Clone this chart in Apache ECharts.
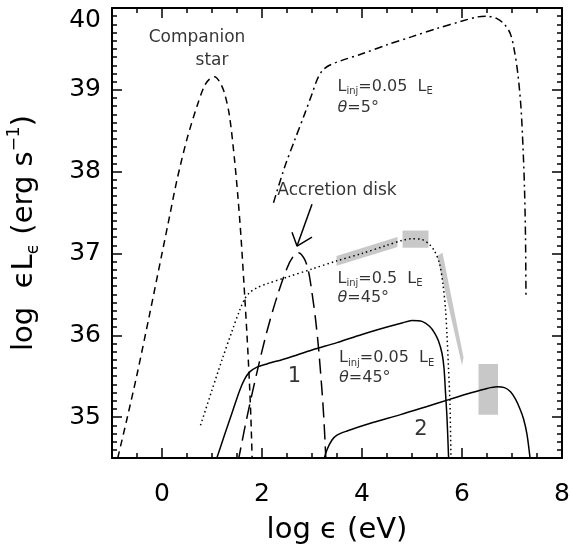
<!DOCTYPE html>
<html>
<head>
<meta charset="utf-8">
<script src="https://cdn.jsdelivr.net/npm/echarts@6/dist/echarts.min.js"></script>
<style>
html, body { margin: 0; padding: 0; background: #fff; }
#chart { width: 571px; height: 554px; }
</style>
</head>
<body>
<div id="chart"></div>
<script>
// curves, [log eps, log eps*L_eps]
const companionStar = [
	[-0.885, 34.5], [-0.7, 34.98], [-0.5, 35.52], [-0.25, 36.25], [0, 37.0], [0.15, 37.45],
	[0.3, 37.9], [0.5, 38.4], [0.7, 38.8], [0.85, 39.05], [0.95, 39.13], [1.05, 39.16],
	[1.15, 39.1], [1.25, 38.96], [1.35, 38.68], [1.45, 38.15], [1.52, 37.68], [1.58, 37.2],
	[1.64, 36.62], [1.7, 36.0], [1.75, 35.4], [1.78, 34.95], [1.805, 34.45],
]
const accretionDisk = [
	[1.52, 34.45], [1.7, 35.0], [1.9, 35.55], [2.1, 36.05], [2.3, 36.47], [2.5, 36.82],
	[2.62, 36.96], [2.73, 37.01], [2.85, 36.93], [2.93, 36.78], [3.0, 36.52], [3.07, 36.2],
	[3.13, 35.85], [3.2, 35.32], [3.24, 34.95], [3.28, 34.45],
]
const jet005theta5 = [
	[2.23, 37.62], [2.45, 38.05], [2.65, 38.38], [2.85, 38.7], [3.0, 38.95], [3.1, 39.12],
	[3.2, 39.23], [3.35, 39.3], [3.6, 39.36], [4.0, 39.44], [4.5, 39.55], [5.0, 39.65],
	[5.5, 39.75], [6.0, 39.84], [6.3, 39.89], [6.5, 39.9], [6.7, 39.87], [6.85, 39.8],
	[6.97, 39.68], [7.05, 39.47], [7.12, 39.18], [7.18, 38.78], [7.22, 38.3], [7.25, 37.8],
	[7.27, 37.2], [7.28, 36.46],
]
const jet05theta45 = [
	[0.77, 34.9], [1.0, 35.33], [1.2, 35.7], [1.4, 36.05], [1.55, 36.3], [1.65, 36.44],
	[1.75, 36.52], [1.9, 36.58], [2.1, 36.63], [2.5, 36.71], [3.0, 36.81], [3.5, 36.91],
	[4.0, 37.0], [4.5, 37.1], [4.8, 37.16], [5.0, 37.18], [5.2, 37.17], [5.35, 37.11],
	[5.45, 37.03], [5.55, 36.88], [5.62, 36.62], [5.67, 36.32], [5.7, 36.0], [5.73, 35.6],
	[5.76, 35.15], [5.78, 34.45],
]
const jet005theta45a = [
	[1.07, 34.45], [1.25, 34.78], [1.4, 35.05], [1.55, 35.32], [1.65, 35.46], [1.75, 35.55],
	[1.9, 35.61], [2.1, 35.65], [2.5, 35.72], [3.0, 35.82], [3.5, 35.91], [4.0, 36.01],
	[4.5, 36.1], [4.8, 36.15], [5.0, 36.18], [5.2, 36.17], [5.35, 36.11], [5.45, 36.03],
	[5.53, 35.93], [5.6, 35.78], [5.64, 35.6], [5.67, 35.3], [5.7, 34.99], [5.735, 34.45],
]
const jet005theta45b = [
	[3.225, 34.45], [3.3, 34.6], [3.4, 34.72], [3.5, 34.78], [3.7, 34.83], [4.2, 34.93],
	[4.77, 35.03], [5.3, 35.13], [5.77, 35.22], [6.2, 35.3], [6.5, 35.35], [6.7, 35.37],
	[6.85, 35.36], [6.97, 35.31], [7.07, 35.22], [7.16, 35.1], [7.23, 34.98], [7.3, 34.79],
	[7.37, 34.45],
]

// grey observation boxes (polygon corners)
const obsBoxes = [
	[[3.49, 36.97], [4.71, 37.2], [4.71, 37.08], [3.49, 36.85]],
	[[4.81, 37.28], [5.33, 37.28], [5.33, 37.07], [4.81, 37.07]],
	[[5.5, 36.97], [5.61, 37.01], [6.03, 35.73], [6.0, 35.63]],
	[[6.33, 35.65], [6.72, 35.65], [6.72, 35.03], [6.33, 35.03]],
]

// arrow pointing at the disk peak
const arrowShaft = [[3.0, 37.6], [2.7, 37.09]]
const arrowHead = [[2.6, 37.26], [2.7, 37.09], [3.0, 37.2]]

// annotations
const noteCentered = [
	{ name: 'Companion', value: [0.7, 39.64] },
	{ name: 'star', value: [1.0, 39.36] },
	{ name: 'Accretion disk', value: [3.5, 37.77] },
	{ name: '{b|1}', value: [2.65, 35.49] },
	{ name: '{b|2}', value: [5.18, 34.85] },
]
const noteLeft = [
	{ name: '{n|L}{s|inj}{n|=0.05  L}{s|E}', value: [3.5, 39.04] },
	{ name: '{i|θ}{n|=5°}', value: [3.5, 38.78] },
	{ name: '{n|L}{s|inj}{n|=0.5  L}{s|E}', value: [3.5, 36.69] },
	{ name: '{i|θ}{n|=45°}', value: [3.5, 36.46] },
	{ name: '{n|L}{s|inj}{n|=0.05  L}{s|E}', value: [3.53, 35.72] },
	{ name: '{i|θ}{n|=45°}', value: [3.53, 35.48] },
]

const xTicks = [0, 2, 4, 6, 8]
const yTicks = [35, 36, 37, 38, 39, 40]

const font = 'DejaVu Sans'
const rich = {
	n: { fontFamily: font, fontSize: 16, lineHeight: 20, color: '#000' },
	s: { fontFamily: font, fontSize: 10, lineHeight: 10, verticalAlign: 'bottom', color: '#000' },
	i: { fontFamily: font, fontSize: 16, lineHeight: 20, fontStyle: 'italic', color: '#000' },
	b: { fontFamily: font, fontSize: 21, color: '#000' },
}

function axisX(pos) {
	return {
		type: 'value', min: -1, max: 8, position: pos,
		minInterval: 2, maxInterval: 2,
		axisLine: { onZero: false, lineStyle: { color: '#000', width: 2 } },
		axisTick: { inside: true, length: 10, lineStyle: { color: '#000', width: 1.5 } },
		minorTick: { show: true, splitNumber: 4, length: 5, lineStyle: { color: '#000', width: 1.5 } },
		splitLine: { show: false },
		axisLabel: {
			show: pos === 'bottom', margin: 24, fontSize: 25, fontFamily: font, color: '#000',
			formatter: (v) => (xTicks.includes(v) ? String(v) : ''),
		},
	}
}
function axisY(pos) {
	return {
		type: 'value', min: 34.5, max: 40, position: pos,
		minInterval: 1, maxInterval: 1,
		axisLine: { onZero: false, lineStyle: { color: '#000', width: 2 } },
		axisTick: { inside: true, length: 10, lineStyle: { color: '#000', width: 1.5 } },
		minorTick: { show: true, splitNumber: 10, length: 5, lineStyle: { color: '#000', width: 1.5 } },
		splitLine: { show: false },
		axisLabel: {
			show: pos === 'left', margin: 11, fontSize: 25, fontFamily: font, color: '#000',
			formatter: (v) => (v === 40 ? '{t|40}' : yTicks.includes(v) ? String(v) : ''),
			rich: { t: { fontSize: 25, fontFamily: font, color: '#000', padding: [24, 0, 0, 0] } },
		},
	}
}

function curve(data, type) {
	return {
		type: 'line', data: data, symbol: 'none', smooth: 0.3,
		lineStyle: { color: '#000', width: 1.5, type: type },
		silent: true, z: 3,
	}
}

const chart = echarts.init(document.getElementById('chart'))
const xBottom = axisX('bottom')
xBottom.name = 'log ϵ (eV)'
xBottom.nameLocation = 'middle'
xBottom.nameGap = 58
xBottom.nameTextStyle = { fontSize: 29, fontFamily: font, color: '#000' }
const yLeft = axisY('left')
yLeft.name = '{m|log  ϵL}{u|ϵ}{m| (erg s}{p|−1}{m|)}'
yLeft.nameLocation = 'middle'
yLeft.nameGap = 70
yLeft.nameTextStyle = {
	rich: {
		m: { fontSize: 29, lineHeight: 36, fontFamily: font, color: '#000' },
		u: { fontSize: 17, lineHeight: 17, verticalAlign: 'bottom', fontFamily: font, color: '#000' },
		p: { fontSize: 17, lineHeight: 17, verticalAlign: 'top', fontFamily: font, color: '#000' },
	},
}

chart.setOption({
	animation: false,
	backgroundColor: '#fff',
	grid: { left: 112, right: 9, top: 8, bottom: 96, containLabel: false, outerBoundsMode: 'none' },
	xAxis: [xBottom, axisX('top')],
	yAxis: [yLeft, axisY('right')],
	series: [
		{
			type: 'custom', silent: true, z: 1,
			data: obsBoxes.map((b, i) => [i]),
			renderItem: (params, api) => ({
				type: 'polygon',
				shape: { points: obsBoxes[params.dataIndex].map((p) => api.coord(p)) },
				style: { fill: '#c8c8c8' },
			}),
		},
		curve(companionStar, [7, 5]),
		curve(accretionDisk, [15, 7]),
		curve(jet005theta5, [8, 4, 2, 4]),
		curve(jet05theta45, [1.5, 3]),
		curve(jet005theta45a, 'solid'),
		curve(jet005theta45b, 'solid'),
		{ type: 'line', data: arrowShaft, symbol: 'none', lineStyle: { color: '#000', width: 1.5 }, silent: true },
		{ type: 'line', data: arrowHead, symbol: 'none', lineStyle: { color: '#000', width: 1.5 }, silent: true },
		{
			type: 'scatter', data: noteCentered, symbolSize: 1, itemStyle: { color: 'transparent' }, silent: true,
			label: {
				show: true, position: 'inside', formatter: '{b}', fontFamily: font, fontSize: 17,
				color: '#000', textBorderWidth: 0, rich: rich,
			},
		},
		{
			type: 'scatter', data: noteLeft, symbolSize: 1, itemStyle: { color: 'transparent' }, silent: true,
			label: { show: true, position: 'right', distance: 0, formatter: '{b}', color: '#000', rich: rich },
		},
	],
})
</script>
</body>
</html>
